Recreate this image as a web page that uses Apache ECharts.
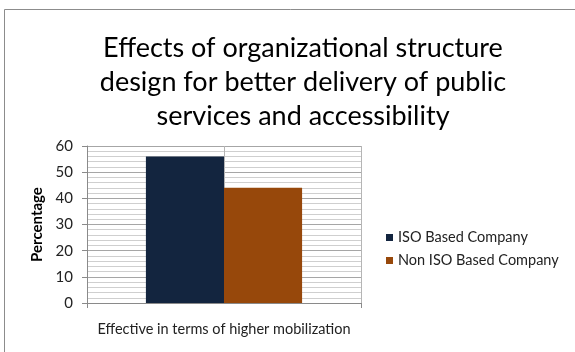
<!DOCTYPE html>
<html>
<head>
<meta charset="utf-8">
<script src="https://cdn.jsdelivr.net/npm/echarts@6/dist/echarts.min.js"></script>
<style>
  html, body { margin: 0; padding: 0; background: #fff; }
  #chart { width: 575px; height: 352px; }
</style>
</head>
<body>
<div id="chart"></div>
<script>
// Survey result: share of respondents per company type
const categories = ['Effective in terms of higher mobilization'];
const seriesNames = ['ISO Based Company', 'Non ISO Based Company'];
const isoValues = [56];
const nonIsoValues = [44];
const yTicks = { min: 0, max: 60, interval: 10 };

const FONT = 'Lato, "Open Sans", sans-serif';
const chart = echarts.init(document.getElementById('chart'), null, { renderer: 'canvas' });

chart.setOption({
  backgroundColor: '#fff',
  animation: false,
  title: {
    text: 'Effects of organizational structure\ndesign for better delivery of public\nservices and accessibility',
    left: 298,
    top: 26,
    textAlign: 'center',
    textStyle: { fontFamily: FONT, fontSize: 27, fontWeight: 'normal', color: '#000', lineHeight: 34 }
  },
  graphic: [{
    type: 'rect',
    shape: { x: 4.5, y: 9.5, width: 620, height: 400 },
    style: { fill: 'none', stroke: '#8c8c8c', lineWidth: 1 },
    silent: true
  }],
  legend: {
    orient: 'vertical',
    left: 381,
    top: 225,
    itemWidth: 7,
    itemHeight: 7,
    itemGap: 8,
    icon: 'rect',
    textStyle: { fontFamily: FONT, fontSize: 14.5, color: '#222' },
    data: seriesNames
  },
  grid: { left: 87, top: 146, right: 214, bottom: 49 },
  xAxis: [{
    type: 'category',
    data: categories,
    axisLine: { lineStyle: { color: '#8a8a8a' } },
    axisTick: { show: true, length: 5, lineStyle: { color: '#8a8a8a' } },
    axisLabel: { fontFamily: FONT, fontSize: 14.5, color: '#222', margin: 19 },
    splitLine: { show: false }
  }, {
    type: 'value',
    min: 0, max: 2, interval: 1,
    position: 'top',
    axisLine: { show: false },
    axisTick: { show: false },
    axisLabel: { show: false },
    splitLine: { show: true, lineStyle: { color: '#b5b5b5', width: 1 } }
  }],
  yAxis: {
    type: 'value',
    min: yTicks.min,
    max: yTicks.max,
    interval: yTicks.interval,
    name: 'Percentage',
    nameLocation: 'middle',
    nameGap: 42,
    nameTextStyle: { fontFamily: FONT, fontSize: 15, fontWeight: 'bold', color: '#000' },
    axisLine: { show: true, lineStyle: { color: '#8a8a8a' } },
    axisTick: { show: true, length: 5, lineStyle: { color: '#8a8a8a' } },
    axisLabel: { fontFamily: FONT, fontSize: 15, color: '#222', margin: 14 },
    splitLine: { show: true, lineStyle: { color: '#a6a6a6', width: 1 } },
    minorTick: { show: false, splitNumber: 5 },
    minorSplitLine: { show: true, lineStyle: { color: '#cfcfcf', width: 1 } }
  },
  series: [{
    name: seriesNames[0],
    type: 'bar',
    xAxisIndex: 0,
    data: isoValues,
    barGap: '0%',
    barCategoryGap: '43%',
    itemStyle: { color: '#13253f' }
  }, {
    name: seriesNames[1],
    type: 'bar',
    xAxisIndex: 0,
    data: nonIsoValues,
    barGap: '0%',
    barCategoryGap: '43%',
    itemStyle: { color: '#97480b' }
  }]
});
</script>
</body>
</html>
